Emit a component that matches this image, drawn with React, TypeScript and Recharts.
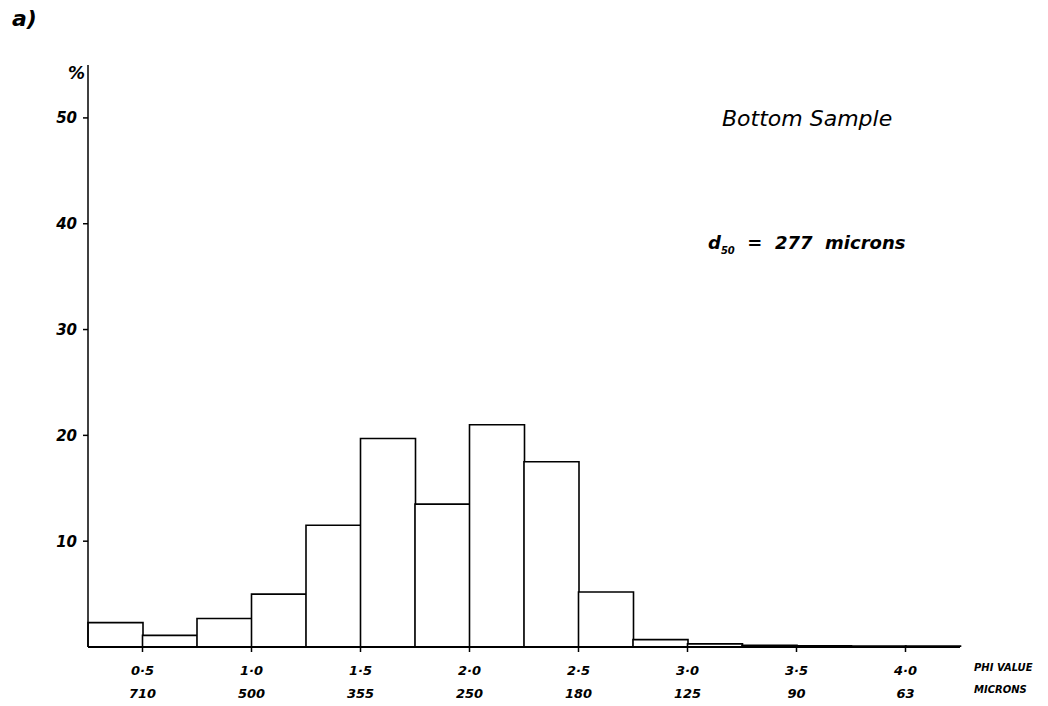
import React from 'react';
import { BarChart, Bar, XAxis, YAxis } from 'recharts';

// Quarter-phi size classes (lower bound of each class, in phi units)
const phiClassStart = [0.25, 0.5, 0.75, 1.0, 1.25, 1.5, 1.75, 2.0, 2.25, 2.5, 2.75, 3.0, 3.25, 3.5, 3.75, 4.0];
// Percentage by weight in each class
const percentages = [2.3, 1.1, 2.7, 5.0, 11.5, 19.7, 13.5, 21.0, 17.5, 5.2, 0.7, 0.3, 0.15, 0.12, 0.1, 0.08];
// Axis tick labels
const phiTicks = [0.5, 1.0, 1.5, 2.0, 2.5, 3.0, 3.5, 4.0];
const micronLabels = ['710', '500', '355', '250', '180', '125', '90', '63'];
const yTicks = [10, 20, 30, 40, 50];

const data = phiClassStart.map((p, i) => ({ bin: String(p), mid: p + 0.125, pct: percentages[i] }));

const FONT = '"DejaVu Sans", sans-serif';

const PhiTick = (props: any) => {
  const { x, y, payload } = props;
  const idx = phiTicks.indexOf(payload.value);
  const phiText = Number(payload.value).toFixed(1).replace('.', '·');
  return (
    <g>
      <text x={x} y={y + 21} textAnchor="middle" fontFamily={FONT} fontSize={13} fontWeight="bold" fontStyle="italic" fill="#000">
        {phiText}
      </text>
      <text x={x} y={y + 44} textAnchor="middle" fontFamily={FONT} fontSize={13} fontWeight="bold" fontStyle="italic" fill="#000">
        {idx >= 0 ? micronLabels[idx] : ''}
      </text>
    </g>
  );
};

export default function App() {
  return (
    <div style={{ position: 'relative', width: 1040, height: 698, background: '#fff' }}>
      <BarChart
        width={1040}
        height={698}
        data={data}
        margin={{ top: 57, right: 88, bottom: 9, left: 30 }}
        barCategoryGap={0}
        barGap={0}
      >
        <XAxis
          xAxisId="phi"
          dataKey="mid"
          type="number"
          domain={[0.25, 4.25]}
          ticks={phiTicks}
          allowDataOverflow
          height={50}
          axisLine={{ stroke: '#000', strokeWidth: 2 }}
          tickLine={{ stroke: '#000', strokeWidth: 1.5 }}
          tickSize={5}
          tick={<PhiTick />}
          interval={0}
        />
        <XAxis xAxisId="bin" dataKey="bin" hide height={0} />
        <YAxis
          domain={[0, 55]}
          ticks={yTicks}
          allowDataOverflow
          width={50}
          axisLine={{ stroke: '#000', strokeWidth: 1.5 }}
          tickLine={{ stroke: '#000', strokeWidth: 1.5 }}
          tickSize={5}
          tickMargin={6}
          tick={{ fontFamily: FONT, fontSize: 15, fontWeight: 'bold', fontStyle: 'italic', fill: '#000' }}
        />
        <Bar
          xAxisId="bin"
          dataKey="pct"
          fill="#fff"
          stroke="#000"
          strokeWidth={1.6}
          isAnimationActive={false}
        />
      </BarChart>
      <div style={{ position: 'absolute', left: 4, top: -2, fontFamily: FONT, fontSize: 22, fontStyle: 'italic', fontWeight: 'bold' }}>a)</div>
      <div style={{ position: 'absolute', left: 60, top: 55, fontFamily: FONT, fontSize: 17, fontStyle: 'italic', fontWeight: 'bold' }}>%</div>
      <div style={{ position: 'absolute', left: 714, top: 98, fontFamily: FONT, fontSize: 22, fontStyle: 'italic' }}>Bottom Sample</div>
      <div style={{ position: 'absolute', left: 700, top: 224, fontFamily: FONT, fontSize: 18, fontStyle: 'italic', fontWeight: 'bold', whiteSpace: 'nowrap' }}>
        d<sub style={{ fontSize: 10 }}>50</sub> &nbsp;= &nbsp;277 &nbsp;microns
      </div>
      <div style={{ position: 'absolute', left: 966, top: 654, fontFamily: FONT, fontSize: 10, fontWeight: 'bold', fontStyle: 'italic', whiteSpace: 'nowrap' }}>PHI VALUE</div>
      <div style={{ position: 'absolute', left: 966, top: 676, fontFamily: FONT, fontSize: 10, fontWeight: 'bold', fontStyle: 'italic', whiteSpace: 'nowrap' }}>MICRONS</div>
    </div>
  );
}
